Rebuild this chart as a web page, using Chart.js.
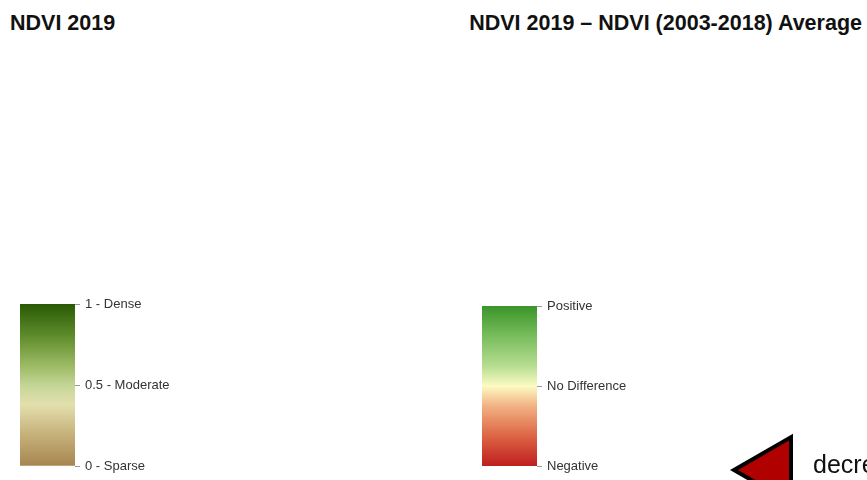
<!DOCTYPE html>
<html>
<head>
<meta charset="utf-8">
<script src="https://cdn.jsdelivr.net/npm/chart.js@4/dist/chart.umd.min.js"></script>
<style>
  html, body { margin: 0; padding: 0; background: #fff; }
  body { width: 867px; height: 480px; position: relative; overflow: hidden; font-family: 'Liberation Sans', Arial, sans-serif; }
  .title { position: absolute; font-weight: bold; font-size: 21.5px; line-height: 1; color: #111; white-space: nowrap; }
  canvas { position: absolute; }
  #note { position: absolute; left: 813px; top: 452px; font-size: 25px; line-height: 1; color: #111; white-space: nowrap; }
</style>
</head>
<body>
<div class="title" id="t1" style="left:10px; top:13px;">NDVI 2019</div>
<div class="title" id="t2" style="right:5px; top:13px;">NDVI 2019 – NDVI (2003-2018) Average</div>
<canvas id="c1" width="220" height="190" style="left:0;top:290px;width:220px;height:190px;"></canvas>
<canvas id="c2" width="200" height="190" style="left:462px;top:290px;width:200px;height:190px;"></canvas>
<canvas id="c3" width="167" height="80" style="left:700px;top:400px;width:167px;height:80px;"></canvas>
<div id="note">decre</div>
<script>
// ---- data ----
const ndviTickValues = [0, 0.5, 1];
const ndviTickLabels = ['0 - Sparse', '0.5 - Moderate', '1 - Dense'];
const ndviStopPositions = [0, 0.2, 0.38, 0.5, 0.62, 0.8, 1];
const ndviStopColors = ['#a6854f', '#c7b27c', '#e3e0ae', '#c3d596', '#9cba63', '#5f8d2c', '#2a5906'];

const diffTickValues = [-1, 0, 1];
const diffTickLabels = ['Negative', 'No Difference', 'Positive'];
const diffStopPositions = [0, 0.2, 0.38, 0.5, 0.62, 0.8, 1];
const diffStopColors = ['#bf1e1e', '#de6a48', '#f2b486', '#fcfbc2', '#b8de92', '#7cbf60', '#3a9529'];

const markerLabel = 'decrease';
const markerX = [72];
const markerY = [70];

const FONT = "'Liberation Sans', Arial, sans-serif";

function colorBar(id, tickValues, tickLabels, stopPos, stopCols, padTop, padLeft, axisWidth) {
  const minV = tickValues[0], maxV = tickValues[tickValues.length - 1];
  return new Chart(document.getElementById(id), {
    type: 'bar',
    data: {
      labels: ['bar'],
      datasets: [{
        data: [[minV, maxV]],
        barPercentage: 1,
        categoryPercentage: 1,
        borderWidth: 0,
        backgroundColor: (ctx) => {
          const chart = ctx.chart;
          const a = chart.chartArea;
          if (!a) return stopCols[0];
          const g = chart.ctx.createLinearGradient(0, a.bottom, 0, a.top);
          stopPos.forEach((p, i) => g.addColorStop(p, stopCols[i]));
          return g;
        }
      }]
    },
    options: {
      responsive: false,
      animation: false,
      devicePixelRatio: 1,
      layout: { padding: { top: padTop, left: padLeft, bottom: 14, right: 0 } },
      plugins: { legend: { display: false }, tooltip: { enabled: false } },
      scales: {
        x: { display: false },
        y: {
          position: 'right',
          min: minV, max: maxV,
          afterBuildTicks: (s) => { s.ticks = tickValues.map(v => ({ value: v })); },
          afterFit: (s) => { s.width = axisWidth; },
          ticks: {
            callback: (v) => tickLabels[tickValues.indexOf(v)],
            color: '#333',
            font: { family: FONT, size: 13 },
            padding: 5
          },
          grid: { drawOnChartArea: false, drawTicks: true, tickLength: 5, color: '#9a9a9a', lineWidth: 1 },
          border: { display: false }
        }
      }
    }
  });
}

colorBar('c1', ndviTickValues, ndviTickLabels, ndviStopPositions, ndviStopColors, 14, 20, 145);
colorBar('c2', diffTickValues, diffTickLabels, diffStopPositions, diffStopColors, 16, 20, 125);

new Chart(document.getElementById('c3'), {
  type: 'scatter',
  data: {
    datasets: [{
      label: markerLabel,
      data: markerX.map((x, i) => ({ x: x, y: markerY[i] })),
      pointStyle: 'triangle',
      rotation: -90,
      radius: 38,
      backgroundColor: '#b00000',
      borderColor: '#000',
      borderWidth: 4
    }]
  },
  options: {
    responsive: false,
    animation: false,
    devicePixelRatio: 1,
    clip: false,
    layout: { padding: 0, autoPadding: false },
    plugins: { legend: { display: false }, tooltip: { enabled: false } },
    scales: {
      x: { display: false, min: 0, max: 167 },
      y: { display: false, min: 0, max: 80, reverse: true }
    }
  }
});
</script>
</body>
</html>
